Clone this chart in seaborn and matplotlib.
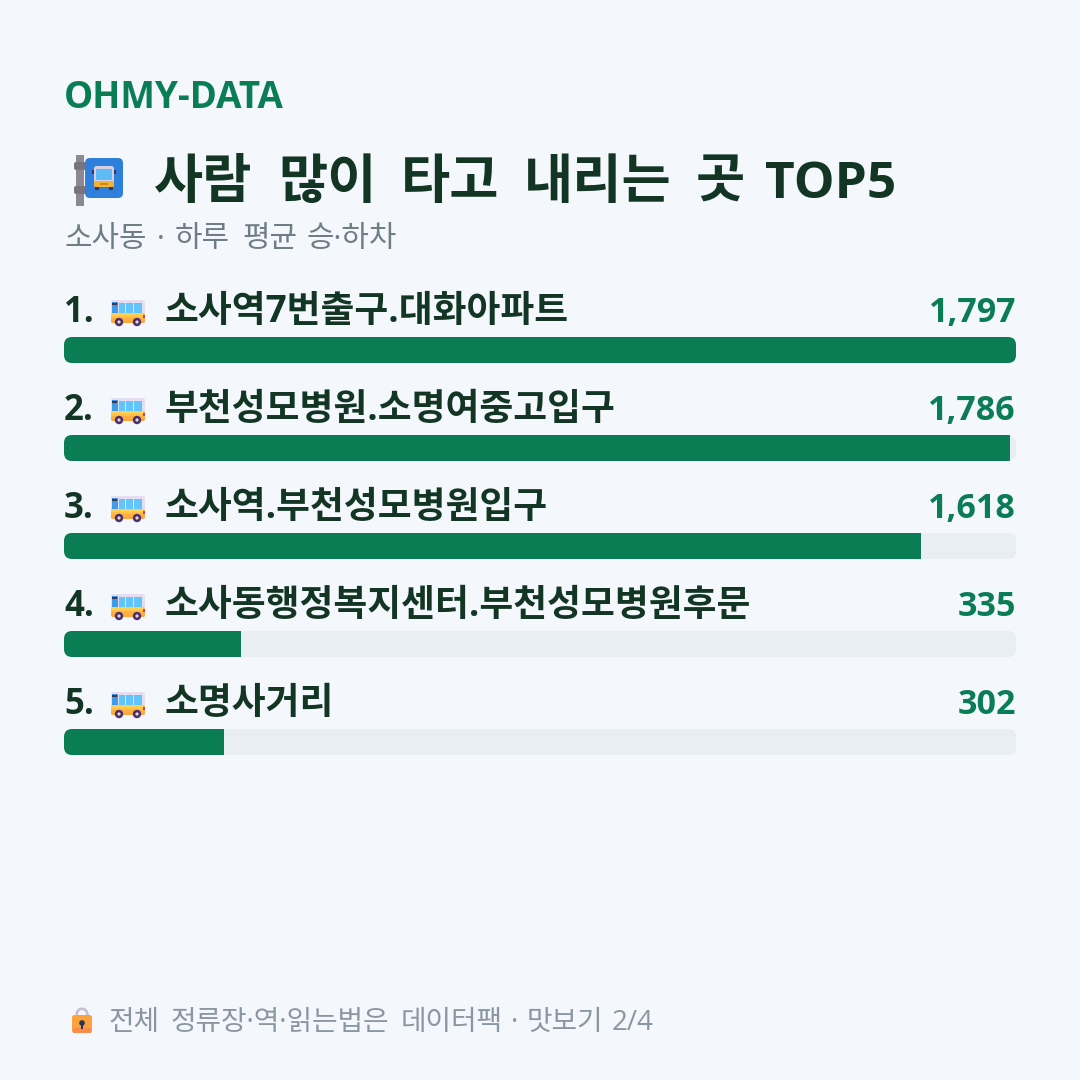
import matplotlib
matplotlib.use("Agg")
import matplotlib.pyplot as plt
from matplotlib.patches import FancyBboxPatch, Circle, Rectangle, Wedge
import pandas as pd
import seaborn as sns

stops = ["소사역7번출구.대화아파트", "부천성모병원.소명여중고입구", "소사역.부천성모병원입구",
         "소사동행정복지센터.부천성모병원후문", "소명사거리"]
riders = [1797, 1786, 1618, 335, 302]
title_words = ["사람", "많이", "타고", "내리는", "곳"]
title_tail = "TOP5"
subtitle_words = ["소사동", "·", "하루", "평균", "승·하차"]
footer_words = ["전체", "정류장·역·읽는법은", "데이터팩", "·", "맛보기", "2/4"]

BG = "#F4F7FC"
GREEN = "#0A7D55"
TRACK = "#E9EDF4"
INK = "#133624"
FONT = ["Open Sans", "Noto Sans CJK KR", "DejaVu Sans"]

sns.set_theme(style="white")
plt.rcParams["font.family"] = FONT

W, H = 1080, 1080
fig = plt.figure(figsize=(W / 100, H / 100), dpi=100, facecolor=BG)

# Bars live in an axes whose rows are 98 px apart and 26 px tall.
ax = fig.add_axes([64 / W, 1 - 791 / H, 952 / W, 490 / H])
df = pd.DataFrame({"stop": stops, "riders": riders, "top": [max(riders)] * len(riders)})
sns.barplot(df, y="stop", x="top", color=TRACK, width=26 / 98, saturation=1,
            linewidth=0, ax=ax, orient="h")
sns.barplot(df, y="stop", x="riders", color=GREEN, width=26 / 98, saturation=1,
            linewidth=0, ax=ax, orient="h")
ax.set_xlim(0, max(riders))
ax.set_ylim(4.5, -0.5)
ax.axis("off")

# Overlay in pixel units for text and small icons.
ov = fig.add_axes([0, 0, 1, 1], zorder=5)
ov.set_xlim(0, W)
ov.set_ylim(H, 0)
ov.axis("off")
ov.patch.set_alpha(0)


def box(x0, y0, x1, y1, r, color, z=6):
    p = FancyBboxPatch((x0 + r, y0 + r), x1 - x0 - 2 * r, y1 - y0 - 2 * r,
                       boxstyle=f"round,pad={r},rounding_size={r}",
                       fc=color, ec="none", zorder=z)
    ov.add_patch(p)
    return p


def rect(x, y, w, h, color, z=8):
    ov.add_patch(Rectangle((x, y), w, h, fc=color, ec="none", zorder=z))


def circ(x, y, r, color, z=7):
    ov.add_patch(Circle((x, y), r, fc=color, ec="none", zorder=z))


def bus_side(x, y):
    """Side-view bus icon; x, y is the top-left corner."""
    box(x, y, x + 34, y + 23, 2, "#E6DDF0")
    body = box(x, y + 13, x + 34, y + 23, 2, "#FBA63E", z=7)
    for off, tone in ((13, "#FFD04F"), (15.5, "#FFC048"), (18, "#FDAE40")):
        band = Rectangle((x, y + off), 34, 2.6, fc=tone, ec="none", zorder=8)
        ov.add_patch(band)
        band.set_clip_path(body)
    rect(x + 1, y + 2, 6, 11, "#3E9BE8")
    rect(x + 1, y + 3, 5, 2, "#3B3550", z=9)
    for wx, ww in ((7.5, 6.5), (15, 7), (23, 8)):
        rect(x + wx, y + 2.5, ww, 10.5, "#63C4FB")
    rect(x + 32, y + 15, 2, 3, "#D6308E", z=9)
    for wx in (8, 26):
        circ(x + wx, y + 22, 4.2, "#4B2E73", z=9)
        circ(x + wx, y + 22, 1.6, "#E9D9B8", z=10)


def bus_stop(x, y):
    """Bus stop sign icon; x, y is the top-left corner of the pole."""
    rect(x + 2, y, 8, 51, "#8C8894", z=6)
    for by in (7, 31):
        box(x, y + by, x + 12, y + by + 8, 2, "#77737F", z=7)
    box(x + 11, y + 3, x + 49, y + 43, 5, "#2F80DC", z=7)
    box(x + 20, y + 11, x + 40, y + 32, 2.5, "#D6D0E6", z=8)
    rect(x + 22, y + 14, 16, 11, "#5EBBF5", z=9)
    box(x + 20, y + 26, x + 40, y + 32, 1.5, "#F2B233", z=9)
    rect(x + 26, y + 27.5, 8, 2.5, "#C98A1E", z=10)
    for mx in (x + 18, x + 40):
        rect(mx, y + 15, 2, 4, "#3A3550", z=9)
    for wx in (x + 21, x + 35):
        rect(wx, y + 32, 4, 2.5, "#3A3550", z=9)


def lock(x, y):
    """Padlock icon; x, y is the top-left corner of the body."""
    ov.add_patch(Wedge((x + 10, y - 1), 6.5, 180, 360, width=2.6, fc="#C4BED0", ec="none", zorder=6))
    rect(x + 3.5, y - 1.5, 2.6, 3, "#C4BED0", z=6)
    rect(x + 13.9, y - 1.5, 2.6, 3, "#C4BED0", z=6)
    box(x, y, x + 20, y + 18, 2.5, "#FBA23C", z=7)
    rect(x + 1, y + 13, 18, 4.5, "#FB8B4A", z=8)
    circ(x + 10, y + 8, 2.8, "#2B3358", z=9)
    rect(x + 9, y + 8, 2, 6, "#2B3358", z=9)


def spaced(words, xs, base, **kw):
    """Draw a line of words with each one starting at its own pixel column."""
    for word, x in zip(words, xs):
        ov.text(x, base, word, **kw)


ov.text(64, 108, "OHMY-DATA", fontsize=26.5, fontweight="bold", color=GREEN)

bus_stop(74, 155)
spaced(title_words, [154, 278, 401, 524, 696], 198,
       fontsize=38.5, fontweight="bold", color=INK)
ov.text(765, 198, title_tail, fontsize=37, fontweight="bold", color=INK)
spaced(subtitle_words, [64, 157, 175, 242, 307], 247, fontsize=21.5, color="#6F7D86")

row_tops = [337, 435, 533, 631, 729]
for i, (name, val, top) in enumerate(zip(stops, riders, row_tops)):
    base = top - 15
    ov.text(64, base, f"{i + 1}.", fontsize=25, fontweight="bold", color=INK)
    bus_side(111, top - 37)
    ov.text(164, base, name, fontsize=26.5, fontweight="bold", color=INK)
    ov.text(1016, base, f"{val:,}", fontsize=24.5, fontweight="bold", color=GREEN, ha="right")

lock(72, 1015)
spaced(footer_words, [109, 171, 401, 511, 527, 612], 1030, fontsize=20, color="#8A97A2")

# Round the ends of every bar against the 952 px track of its row.
for i, bar in enumerate(ax.patches):
    y0 = row_tops[i % len(stops)]
    clip = FancyBboxPatch((72, y0 + 8), 936, 10,
                          boxstyle="round,pad=8,rounding_size=8",
                          transform=ov.transData, fc="none", ec="none")
    bar.set_clip_path(clip)

fig.savefig("out.png", dpi=100, facecolor=BG)
